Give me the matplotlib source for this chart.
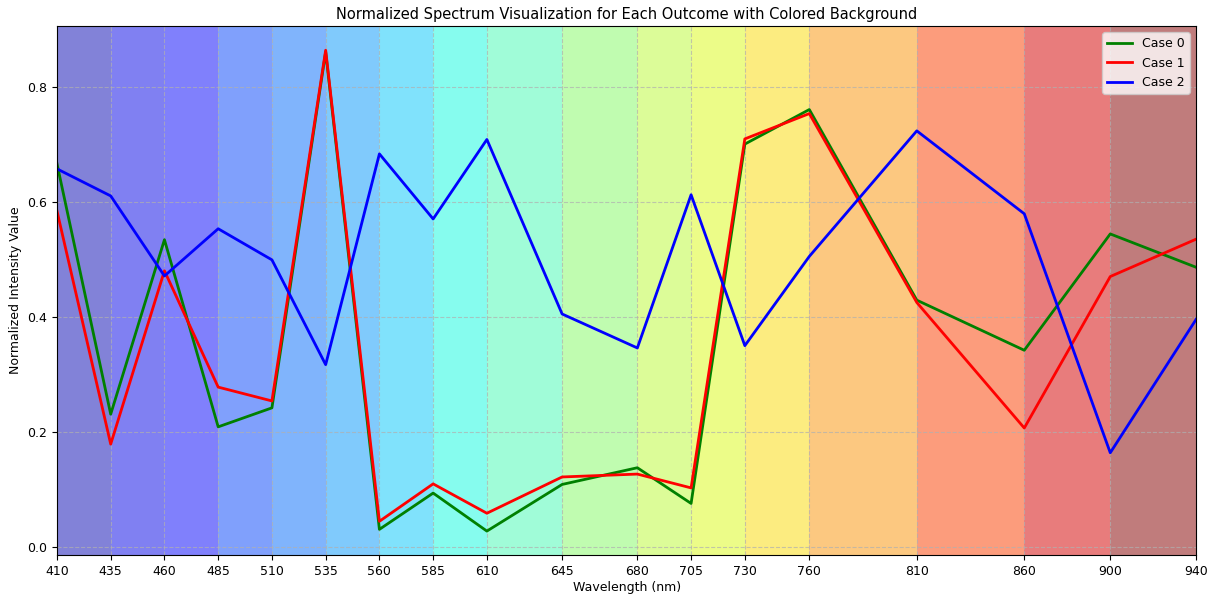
import matplotlib.pyplot as plt

# Measured wavelengths (nm)
wavelengths = [410, 435, 460, 485, 510, 535, 560, 585, 610, 645,
               680, 705, 730, 760, 810, 860, 900, 940]

# Normalized intensity for each outcome
case_0 = [0.666, 0.231, 0.534, 0.209, 0.242, 0.860, 0.031, 0.094, 0.028, 0.109,
          0.138, 0.076, 0.700, 0.760, 0.429, 0.342, 0.544, 0.486]
case_1 = [0.584, 0.179, 0.480, 0.278, 0.254, 0.863, 0.045, 0.110, 0.059, 0.122,
          0.127, 0.103, 0.709, 0.753, 0.425, 0.207, 0.470, 0.535]
case_2 = [0.657, 0.610, 0.471, 0.553, 0.499, 0.317, 0.683, 0.570, 0.708, 0.405,
          0.346, 0.612, 0.350, 0.505, 0.723, 0.579, 0.164, 0.396]

# Background colour for each wavelength band (between consecutive wavelengths)
band_colors = ["#8282d8", "#8080f2", "#8080fc", "#80a0fc", "#80b4fc", "#80cafc",
               "#80e2fc", "#86fcee", "#a0fcd8", "#c0fcb0", "#dcfc98", "#ecfc88",
               "#fcec80", "#fcc880", "#fc9c7c", "#e87c7c", "#c07c7c"]

fig, ax = plt.subplots(figsize=(12.12, 5.95), dpi=100)
fig.subplots_adjust(left=0.047, right=0.987, top=0.956, bottom=0.067)

for i, c in enumerate(band_colors):
    ax.axvspan(wavelengths[i], wavelengths[i + 1], color=c, lw=0)

ax.plot(wavelengths, case_0, color="green", lw=2, label="Case 0")
ax.plot(wavelengths, case_1, color="red", lw=2, label="Case 1")
ax.plot(wavelengths, case_2, color="blue", lw=2, label="Case 2")

ax.set_xlim(wavelengths[0], wavelengths[-1])
ax.set_xticks(wavelengths)
ax.tick_params(labelsize=9)
ax.set_xlabel("Wavelength (nm)", fontsize=9, labelpad=2)
ax.set_ylabel("Normalized Intensity Value", fontsize=9)
ax.set_title("Normalized Spectrum Visualization for Each Outcome with Colored Background",
             fontsize=10.5, pad=5)
ax.grid(True, linestyle="--", alpha=0.7)
ax.legend(loc="upper right", fontsize=9)

plt.savefig("out.png")
